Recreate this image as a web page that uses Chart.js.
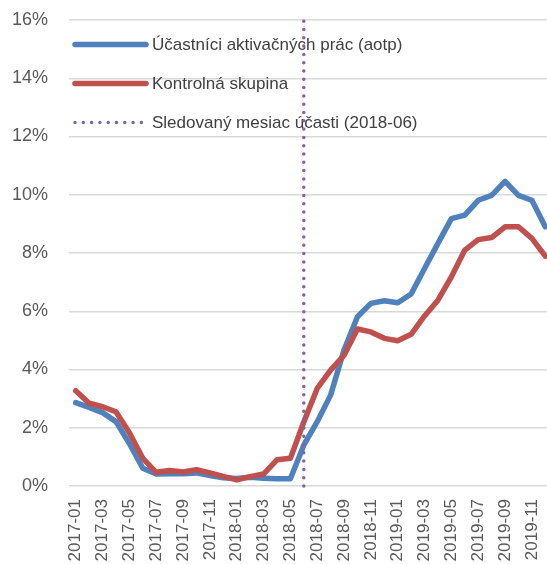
<!DOCTYPE html>
<html>
<head>
<meta charset="utf-8">
<script src="https://cdn.jsdelivr.net/npm/chart.js@4.4.0/dist/chart.umd.min.js"></script>
<style>
html,body{margin:0;padding:0;overflow:hidden;background:#fff;width:547px;height:564px}
#wrap{position:relative;width:553px;height:564px}
</style>
</head>
<body>
<div id="wrap"><canvas id="c"></canvas></div>
<script>
const months = ['2017-01','2017-02','2017-03','2017-04','2017-05','2017-06','2017-07','2017-08','2017-09','2017-10','2017-11','2017-12',
  '2018-01','2018-02','2018-03','2018-04','2018-05','2018-06','2018-07','2018-08','2018-09','2018-10','2018-11','2018-12',
  '2019-01','2019-02','2019-03','2019-04','2019-05','2019-06','2019-07','2019-08','2019-09','2019-10','2019-11','2019-12'];
const shownMonthLabels = ['2017-01','2017-03','2017-05','2017-07','2017-09','2017-11','2018-01','2018-03','2018-05','2018-07',
  '2018-09','2018-11','2019-01','2019-03','2019-05','2019-07','2019-09','2019-11'];
const yTickValues = [0,2,4,6,8,10,12,14,16];
const seriesNames = ['Účastníci aktivačných prác (aotp)','Kontrolná skupina','Sledovaný mesiac účasti (2018-06)'];
const aotp = [2.86,2.70,2.52,2.21,1.46,0.61,0.41,0.42,0.42,0.45,0.36,0.28,0.26,0.30,0.27,0.25,0.25,
  1.40,2.21,3.12,4.67,5.81,6.27,6.36,6.29,6.59,7.47,8.33,9.18,9.30,9.81,9.98,10.46,9.98,9.81,8.90];
const control = [3.27,2.84,2.72,2.55,1.83,0.95,0.47,0.53,0.48,0.56,0.45,0.33,0.21,0.32,0.41,0.90,0.95,
  2.20,3.35,3.98,4.49,5.39,5.29,5.07,4.99,5.21,5.84,6.38,7.18,8.10,8.46,8.53,8.90,8.90,8.50,7.89];
const markerMonth = '2018-06';
const markerRange = [0,16];

Chart.defaults.font.family = '"Liberation Sans", Arial, sans-serif';
Chart.defaults.animation = false;

const insideLegend = {
  id: 'insideLegend',
  beforeDatasetsDraw(chart) {
    const ctx = chart.ctx, a = chart.chartArea;
    const x0 = a.left + 6, len = 71, gap = 6, y0 = a.top + 24.5, dy = 39;
    chart.data.datasets.forEach((ds, i) => {
      const y = y0 + i * dy;
      ctx.save();
      ctx.strokeStyle = ds.borderColor;
      ctx.lineWidth = ds.legendWidth;
      ctx.lineCap = 'round';
      ctx.setLineDash(ds.borderDash || []);
      ctx.beginPath(); ctx.moveTo(x0, y); ctx.lineTo(x0 + len, y); ctx.stroke();
      ctx.restore();
      ctx.save();
      ctx.fillStyle = '#404040';
      ctx.font = '17px "Liberation Sans", Arial, sans-serif';
      ctx.textBaseline = 'middle';
      ctx.fillText(ds.label, x0 + len + gap, y + 1);
      ctx.restore();
    });
  }
};

new Chart(document.getElementById('c'), {
  type: 'line',
  data: {
    labels: months,
    datasets: [
      { label: seriesNames[0], data: aotp, borderColor: '#4F81BD', borderWidth: 5.5, legendWidth: 5.5,
        pointRadius: 0, tension: 0, borderJoinStyle: 'round', borderCapStyle: 'round', order: 3, clip: false },
      { label: seriesNames[1], data: control, borderColor: '#C0504D', borderWidth: 5.5, legendWidth: 5.5,
        pointRadius: 0, tension: 0, borderJoinStyle: 'round', borderCapStyle: 'round', order: 2, clip: false },
      { label: seriesNames[2], data: markerRange.map(v => ({x: markerMonth, y: v})), borderColor: '#8064A2',
        borderWidth: 3.5, legendWidth: 3.5, borderDash: [0, 8.3], borderCapStyle: 'round',
        pointRadius: 0, tension: 0, order: 1, clip: false }
    ]
  },
  options: {
    responsive: true,
    maintainAspectRatio: false,
    layout: { padding: { left: 0, top: 20, right: 1, bottom: 0 } },
    plugins: { legend: { display: false }, tooltip: { enabled: false } },
    scales: {
      x: {
        type: 'category', offset: true,
        grid: { display: false, drawTicks: false },
        border: { display: false },
        afterFit(s) { s.height = 78; s.paddingLeft = 0; s.paddingRight = 0; },
        ticks: {
          autoSkip: false, maxRotation: 90, minRotation: 90, padding: 13,
          color: '#595959', font: { size: 17 },
          callback(v) { const l = this.getLabelForValue(v); return shownMonthLabels.includes(l) ? l : ''; }
        }
      },
      y: {
        min: 0, max: 16,
        afterBuildTicks(scale) { scale.ticks = yTickValues.map(v => ({ value: v })); },
        afterFit(s) { s.width = 69; s.paddingTop = 0; s.paddingBottom = 0; },
        grid: { color: '#d9d9d9', lineWidth: 1.5, drawTicks: false },
        border: { display: false },
        ticks: { padding: 21, color: '#595959', font: { size: 18 }, callback: v => v + '%' }
      }
    }
  },
  plugins: [insideLegend]
});
</script>
</body>
</html>
